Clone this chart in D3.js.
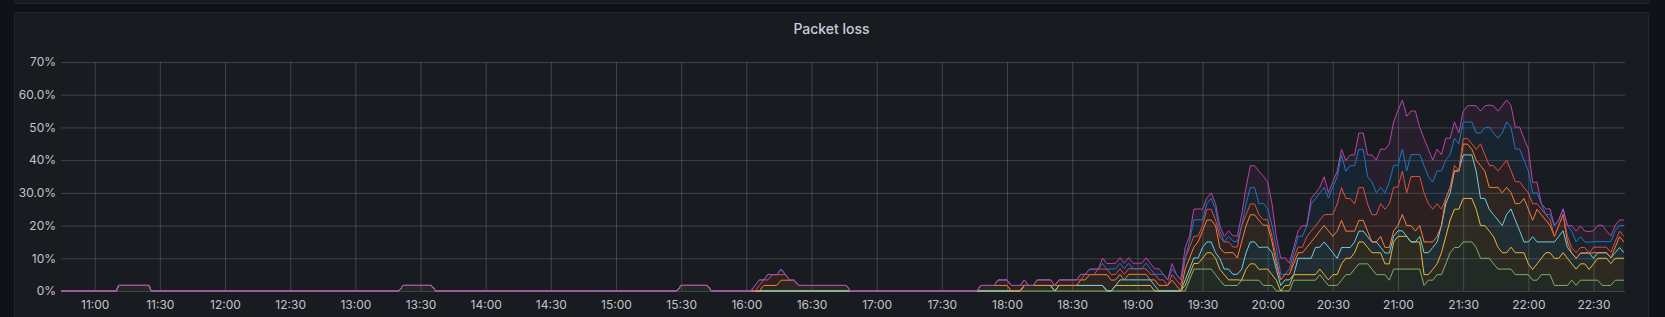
<!DOCTYPE html>
<html>
<head>
<meta charset="utf-8">
<script src="https://cdn.jsdelivr.net/npm/d3@7"></script>
<style>
  body { margin: 0; background: #111217; }
  svg { display: block; }
</style>
</head>
<body>
<script>
// Packet loss panel (Grafana-style stacked graph)

const WIDTH = 1665, HEIGHT = 317;
const PLOT = {left: 61, right: 1625, top: 62, bottom: 291};
const GRID = "rgba(204,204,220,0.22)";
const TEXT = "#c4c4cc";

// sample times (2 min steps while there is loss)
const times = [
  "10:44","11:10","11:11","11:25","11:26","13:20","13:22","13:35","13:37",
  "15:28","15:30","15:42","15:44","16:02","16:04","16:06","16:08","16:10","16:12","16:14",
  "16:16","16:18","16:20","16:22","16:24","16:46","16:48",
  "17:44","17:46","17:48","17:50","17:52","17:54","17:56","17:58",
  "18:00","18:02","18:04","18:06","18:08","18:10","18:12","18:14","18:16","18:18",
  "18:20","18:22","18:24","18:26","18:28","18:30","18:32","18:34","18:36","18:38",
  "18:40","18:42","18:44","18:46","18:48","18:50","18:52","18:54","18:56","18:58",
  "19:00","19:02","19:04","19:06","19:08","19:10","19:12","19:14","19:16","19:18",
  "19:20","19:22","19:24","19:26","19:28","19:30","19:32","19:34","19:36","19:38",
  "19:40","19:42","19:44","19:46","19:48","19:50","19:52","19:54","19:56","19:58",
  "20:00","20:02","20:04","20:06","20:08","20:10","20:12","20:14","20:16","20:18",
  "20:20","20:22","20:24","20:26","20:28","20:30","20:32","20:34","20:36","20:38",
  "20:40","20:42","20:44","20:46","20:48","20:50","20:52","20:54","20:56","20:58",
  "21:00","21:02","21:04","21:06","21:08","21:10","21:12","21:14","21:16","21:18",
  "21:20","21:22","21:24","21:26","21:28","21:30","21:32","21:34","21:36","21:38",
  "21:40","21:42","21:44","21:46","21:48","21:50","21:52","21:54","21:56","21:58",
  "22:00","22:02","22:04","22:06","22:08","22:10","22:12","22:14","22:16","22:18",
  "22:20","22:22","22:24","22:26","22:28","22:30","22:32","22:34","22:36","22:38",
  "22:40","22:42","22:44"
];

// loss per series, % (stacked in this order)
const seriesA = [
  0,0,1.7,1.7,0,0,1.7,1.7,0,0,1.7,1.7,0,0,0,0,0,0,0,0,0,0,0,0,0,0,0,
  0,0,0,0,0,0,0,0,0,0, 0,0,0,0,0,0,0,0,0,0, 0,0,0,0,0,0,0,0,0,0,
  0,0,0,0,0,0,0,0,0,0, 0,0,0,0,0,0,0,0,0,0,
  3.3,6.7,6.7,6.7,6.7,6.7,5,3.3,1.7,1.7, 1.7,1.7,3.3,3.3,3.3,3.3,3.3,1.7,1.7,1.7,
  0,0,0,0,3.3,3.3,3.3,3.3,3.3,3.3, 5,3.3,1.7,1.7,1.7,3.3,5,5,6.7,8.3,
  8.3,8.3,6.7,5,5,5,3.3,6.7,6.7,6.7, 6.7,6.7,6.7,6.7,1.7,3.3,3.3,5,5,8.3,
  11.7,13.3,13.3,15,15,15,13.3,10,10,10, 8.3,6.7,6.7,6.7,6.7,5,5,5,5,3.3,
  3.3,5,5,5,1.7,1.7,1.7,1.7,3.3,1.7, 3.3,3.3,3.3,3.3,3.3,1.7,1.7,1.7,3.3,3.3,3.3
];
const seriesB = [
  0,0,0,0,0,0,0,0,0,0,0,0,0,0,0,0,0,0,0,0,0,0,0,0,0,0,0,
  0,0,0,0,0,0,0,0,0,0, 0,0,1.7,1.7,1.7,1.7,1.7,1.7,1.7,0,
  1.7,1.7,1.7,1.7,1.7,1.7,1.7,1.7,1.7,1.7, 1.7,0,0,1.7,1.7,1.7,1.7,1.7,1.7,1.7,
  1.7,1.7,0,0,0,0,0,0,0,1.7, 1.7,1.7,1.7,3.3,5,5,5,3.3,3.3,1.7,
  1.7,1.7,0,3.3,5,5,3.3,5,5,3.3, 3.3,0,1.7,1.7,1.7,1.7,1.7,1.7,1.7,1.7,
  1.7,1.7,1.7,3.3,3.3,5,5,5,5,6.7, 6.7,5,5,6.7,6.7,3.3,5,8.3,10,10,
  10,8.3,8.3,8.3,3.3,1.7,3.3,3.3,6.7,8.3, 10,11.7,11.7,13.3,13.3,13.3,11.7,10,10,8.3,
  8.3,6.7,5,5,6.7,6.7,6.7,6.7,3.3,3.3, 5,5,6.7,6.7,8.3,8.3,10,8.3,5,5,
  5,5,3.3,5,6.7,8.3,8.3,6.7,6.7,6.7,6.7
];
const seriesC = [
  0,0,0,0,0,0,0,0,0,0,0,0,0,0,0,0,0,0,0,0,0,0,0,0,0,0,0,
  0,0,0,0,0,0,0,0,0,0, 0,0,0,0,0,0,0,0,0,0, 0,0,0,0,0,0,0,0,0,0,
  0,0,0,0,1.7,1.7,1.7,1.7,1.7,1.7, 1.7,1.7,1.7,0,0,0,0,0,0,1.7,
  1.7,1.7,1.7,3.3,3.3,3.3,1.7,3.3,1.7,3.3, 1.7,1.7,3.3,5,6.7,6.7,6.7,6.7,6.7,6.7,
  3.3,1.7,1.7,1.7,0,5,5,5,5,8.3, 6.7,10,10,6.7,5,5,3.3,3.3,3.3,3.3,
  3.3,3.3,3.3,3.3,1.7,3.3,3.3,1.7,1.7,1.7, 0,0,0,1.7,6.7,6.7,6.7,6.7,8.3,10,
  8.3,11.7,11.7,13.3,13.3,13.3,11.7,8.3,8.3,6.7, 6.7,8.3,8.3,11.7,11.7,10,6.7,3.3,6.7,10,
  6.7,5,3.3,3.3,5,6.7,6.7,3.3,3.3,3.3, 3.3,3.3,5,1.7,1.7,1.7,1.7,1.7,1.7,3.3,1.7
];
const seriesD = [
  0,0,0,0,0,0,0,0,0,0,0,0,0,0,0,0,1.7,1.7,1.7,1.7,3.3,3.3,3.3,3.3,1.7,1.7,0,
  0,0,1.7,1.7,1.7,1.7,1.7,1.7,1.7,0, 0,0,0,0,0,0,0,0,0,1.7,
  0,0,0,0,0,1.7,1.7,3.3,3.3,3.3, 3.3,5,3.3,1.7,1.7,0,1.7,1.7,1.7,1.7,
  1.7,0,1.7,1.7,1.7,1.7,3.3,1.7,0,3.3, 3.3,3.3,5,5,6.7,6.7,8.3,3.3,5,5,
  6.7,5,8.3,8.3,8.3,8.3,8.3,6.7,6.7,3.3, 1.7,1.7,1.7,1.7,3.3,1.7,1.7,3.3,5,3.3,
  5,5,5,5,8.3,8.3,5,5,3.3,3.3, 3.3,1.7,0,0,3.3,1.7,1.7,1.7,1.7,5,
  3.3,5,3.3,3.3,3.3,3.3,1.7,1.7,0,1.7, 1.7,0,0,3.3,3.3,1.7,3.3,10,8.3,6.7,
  8.3,10,10,8.3,5,5,8.3,13.3,10,5, 10,8.3,6.7,5,1.7,3.3,5,1.7,0,0,
  0,0,0,1.7,0,0,0,0,1.7,3.3,3.3
];
const seriesE = [
  0,0,0,0,0,0,0,0,0,0,0,0,0,0,0,1.7,1.7,1.7,3.3,3.3,1.7,1.7,0,0,0,0,0,
  0,0,0,0,0,0,1.7,1.7,1.7,1.7, 1.7,1.7,0,0,0,1.7,1.7,1.7,1.7,0,
  1.7,1.7,1.7,1.7,1.7,0,1.7,0,0,1.7, 1.7,1.7,1.7,1.7,1.7,1.7,1.7,1.7,1.7,1.7,
  1.7,1.7,1.7,1.7,1.7,0,1.7,1.7,1.7,3.3, 3.3,3.3,1.7,1.7,3.3,3.3,1.7,3.3,3.3,3.3,
  1.7,3.3,5,3.3,3.3,3.3,1.7,1.7,1.7,1.7, 1.7,0,0,0,1.7,1.7,1.7,3.3,3.3,3.3,
  3.3,3.3,5,6.7,8.3,10,10,10,8.3,10, 10,8.3,8.3,8.3,10,11.7,13.3,13.3,11.7,13.3,
  10,15,16.7,15,15,11.7,10,10,5,0, 0,1.7,0,1.7,1.7,1.7,3.3,6.7,5,6.7,
  6.7,5,8.3,8.3,6.7,6.7,6.7,3.3,5,5, 1.7,1.7,1.7,1.7,0,0,0,1.7,1.7,1.7,
  1.7,1.7,0,1.7,1.7,1.7,1.7,1.7,1.7,1.7,1.7
];
const seriesF = [
  0,0,0,0,0,0,0,0,0,0,0,0,0,0,1.7,1.7,0,1.7,0,0,1.7,0,0,0,0,0,0,
  0,0,0,0,0,0,0,0,0,0, 0,0,1.7,0,0,0,0,0,0,0,
  0,0,0,0,0,1.7,0,1.7,1.7,0, 1.7,0,1.7,1.7,1.7,1.7,1.7,0,0,0,
  1.7,1.7,0,1.7,1.7,1.7,1.7,1.7,1.7,0, 1.7,5,5,1.7,1.7,3.3,3.3,1.7,0,1.7,
  1.7,1.7,0,3.3,5,5,3.3,5,3.3,3.3, 3.3,1.7,0,1.7,1.7,3.3,3.3,3.3,8.3,8.3,
  8.3,8.3,5,8.3,8.3,10,8.3,10,11.7,11.7, 11.7,8.3,10,6.7,5,5,6.7,6.7,6.7,6.7,
  6.7,6.7,6.7,6.7,8.3,8.3,8.3,10,11.7,11.7, 10,8.3,8.3,5,5,6.7,5,3.3,8.3,11.7,
  10,10,10,11.7,13.3,10,10,8.3,6.7,3.3, 3.3,1.7,0,1.7,3.3,1.7,1.7,3.3,5,3.3,
  3.3,1.7,3.3,1.7,1.7,1.7,1.7,3.3,3.3,1.7,3.3
];
const seriesG = [
  0,0,0,0,0,0,0,0,0,0,0,0,0,0,0,0,0,0,0,0,0,0,0,0,0,0,0,
  0,0,0,0,0,0,0,0,0,0, 0,0,0,0,0,0,0,0,0,0, 0,0,0,0,0,0,0,0,0,0,
  1.7,1.7,1.7,1.7,1.7,1.7,1.7,1.7,1.7,1.7, 1.7,1.7,1.7,1.7,0,0,1.7,0,0,3.3,
  1.7,3.3,3.3,3.3,1.7,1.7,1.7,1.7,1.7,1.7, 1.7,1.7,3.3,5,6.7,6.7,10,8.3,8.3,6.7,
  3.3,5,5,1.7,1.7,1.7,3.3,0,1.7,1.7, 1.7,3.3,1.7,1.7,1.7,1.7,3.3,3.3,3.3,5,
  5,6.7,8.3,10,11.7,13.3,11.7,13.3,16.7,15, 16.7,13.3,13.3,8.3,8.3,8.3,6.7,6.7,5,6.7,
  5,5,3.3,3.3,5,5,8.3,6.7,6.7,6.7, 8.3,8.3,8.3,6.7,6.7,6.7,6.7,6.7,6.7,3.3,
  3.3,0,1.7,1.7,0,0,0,0,1.7,3.3, 3.3,3.3,3.3,3.3,5,5,3.3,1.7,1.7,1.7,1.7
];

const seriesKeys = ["A", "B", "C", "D", "E", "F", "G"];
const seriesValues = [seriesA, seriesB, seriesC, seriesD, seriesE, seriesF, seriesG];
const seriesColors = ["#7EB26D", "#EAB839", "#6ED0E0", "#EF843C", "#E24D42", "#1F78C1", "#BA43A9"];

const yTicks = [0, 10, 20, 30, 40, 50, 60, 70];
const yTickLabels = ["0%", "10%", "20%", "30.0%", "40%", "50%", "60.0%", "70%"];
const xTickLabels = ["11:00","11:30","12:00","12:30","13:00","13:30","14:00","14:30","15:00","15:30",
  "16:00","16:30","17:00","17:30","18:00","18:30","19:00","19:30","20:00","20:30",
  "21:00","21:30","22:00","22:30"];

seriesValues.forEach((s, i) => {
  if (s.length !== times.length) throw new Error("series " + seriesKeys[i] + " has " + s.length + " values, times has " + times.length);
});

const parseTime = d3.timeParse("%H:%M");
const parseTimeSec = d3.timeParse("%H:%M:%S");

const rows = times.map((t, i) => {
  const row = {time: parseTime(t)};
  seriesKeys.forEach((k, j) => row[k] = seriesValues[j][i]);
  return row;
});

const stacked = d3.stack().keys(seriesKeys)(rows);

const x = d3.scaleTime()
  .domain([parseTimeSec("10:44:30"), parseTimeSec("22:44:30")])
  .range([PLOT.left, PLOT.right]);
const y = d3.scaleLinear()
  .domain([0, 70])
  .range([PLOT.bottom, PLOT.top]);

const svg = d3.select("body").append("svg")
  .attr("width", WIDTH)
  .attr("height", HEIGHT);

// page + panels
svg.append("rect").attr("width", WIDTH).attr("height", HEIGHT).attr("fill", "#111217");
svg.append("rect")
  .attr("x", 14.5).attr("y", -10).attr("width", 1634).attr("height", 13.5).attr("rx", 2)
  .attr("fill", "#181b1f").attr("stroke", "#24262b");
svg.append("rect")
  .attr("x", 14.5).attr("y", 12.5).attr("width", 1634).attr("height", 330).attr("rx", 2)
  .attr("fill", "#181b1f").attr("stroke", "#24262b");

svg.append("text")
  .attr("x", 831.5).attr("y", 33.5)
  .attr("text-anchor", "middle")
  .attr("fill", "#ccccdc")
  .style("font", "500 14px Inter")
  .text("Packet loss");

// grid + axes
const yAxisGroup = svg.append("g")
  .attr("transform", `translate(${PLOT.left},0)`)
  .call(d3.axisLeft(y)
    .tickValues(yTicks)
    .tickFormat((d, i) => yTickLabels[i])
    .tickSize(-(PLOT.right - PLOT.left))
    .tickPadding(5));

const xAxisGroup = svg.append("g")
  .attr("transform", `translate(0,${PLOT.bottom})`)
  .call(d3.axisBottom(x)
    .tickValues(xTickLabels.map(parseTime))
    .tickFormat(d3.timeFormat("%H:%M"))
    .tickSize(-(PLOT.bottom - PLOT.top))
    .tickPadding(9));

[yAxisGroup, xAxisGroup].forEach(g => {
  g.select(".domain").remove();
  g.attr("font-family", "Inter").attr("font-size", 12);
  g.selectAll(".tick line").attr("stroke", GRID);
  g.selectAll(".tick text").attr("fill", TEXT);
});

// stacked series
svg.append("clipPath").attr("id", "plot-clip")
  .append("rect")
  .attr("x", PLOT.left).attr("y", PLOT.top - 2)
  .attr("width", PLOT.right - PLOT.left).attr("height", PLOT.bottom - PLOT.top + 4);

const plotGroup = svg.append("g").attr("clip-path", "url(#plot-clip)");

const area = d3.area()
  .x(d => x(d.data.time))
  .y0(d => y(d[0]))
  .y1(d => y(d[1]));

const line = d3.line()
  .x(d => x(d.data.time))
  .y(d => y(d[1]));

plotGroup.selectAll(".fill")
  .data(stacked)
  .join("path")
  .attr("class", "fill")
  .attr("d", area)
  .attr("fill", (d, i) => seriesColors[i])
  .attr("fill-opacity", 0.1);

plotGroup.selectAll(".series-line")
  .data(stacked)
  .join("path")
  .attr("class", "series-line")
  .attr("d", line)
  .attr("fill", "none")
  .attr("stroke", (d, i) => seriesColors[i])
  .attr("stroke-width", 1);
</script>
</body>
</html>
